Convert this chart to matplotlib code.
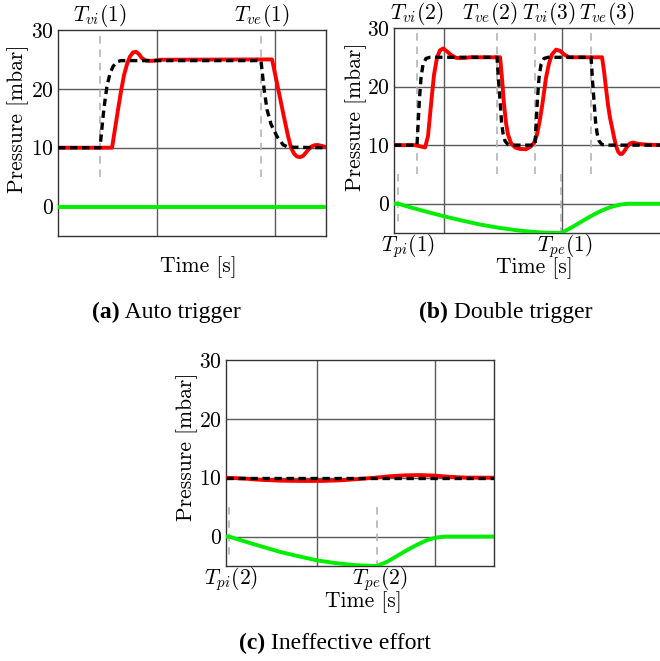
import matplotlib
matplotlib.use("Agg")
import matplotlib.pyplot as plt
from matplotlib.text import Annotation

plt.rcParams["font.family"] = "serif"
plt.rcParams["font.serif"] = ["cmr10", "DejaVu Serif"]
plt.rcParams["mathtext.fontset"] = "cm"
plt.rcParams["axes.unicode_minus"] = False
plt.rcParams["axes.formatter.use_mathtext"] = True

# ---------------- (a) Auto trigger ----------------
a_xlim = (0.161, 2.432)
a_set_t = [0.161, 0.517, 0.534, 0.551, 0.576, 0.602, 0.627, 0.661, 0.695,
           1.881, 1.907, 1.932, 1.966, 2.017, 2.068, 2.110, 2.432]
a_set_p = [10, 10, 13.5, 16.8, 20.5, 22.6, 23.8, 24.6, 24.8,
           24.8, 20.0, 16.5, 14.0, 11.9, 10.5, 10.1, 10]
a_meas_t = [0.161, 0.619, 0.644, 0.669, 0.695, 0.720, 0.746, 0.771, 0.797,
            0.822, 0.847, 0.873, 0.907, 0.958, 1.025, 1.975, 2.008, 2.042,
            2.076, 2.110, 2.136, 2.161, 2.186, 2.212, 2.237, 2.263, 2.288,
            2.314, 2.339, 2.364, 2.398, 2.432]
a_meas_p = [10, 10, 13.2, 16.4, 19.6, 22.3, 24.2, 25.5, 26.2,
            26.3, 25.9, 25.2, 24.8, 24.75, 24.95, 25, 21.8, 18.5,
            15.2, 12.0, 10.0, 9.0, 8.5, 8.4, 8.6, 9.2, 9.8,
            10.25, 10.45, 10.45, 10.3, 10.1]
a_mus_t = [0.161, 2.432]
a_mus_p = [0, 0]
a_marks_top = [(0.517, r"$T_{vi}(1)$", 0.517), (1.881, r"$T_{ve}(1)$", 1.89)]
a_marks_bot = []

# ---------------- (b) Double trigger ----------------
b_xlim = (0.576, 2.847)
b_set_t = [0.576, 0.771, 0.780, 0.792, 0.805, 0.822, 0.847, 0.881,
           1.449, 1.462, 1.475, 1.487, 1.500, 1.517, 1.542, 1.576,
           1.771, 1.780, 1.792, 1.805, 1.822, 1.847, 1.881,
           2.246, 2.258, 2.271, 2.284, 2.297, 2.314, 2.339, 2.373, 2.847]
b_set_p = [10, 10, 13.5, 18, 21.5, 23.8, 24.8, 25,
           25, 21, 17.5, 14, 12, 10.7, 10.1, 10,
           10, 13.5, 18, 21.5, 23.8, 24.8, 25,
           25, 21, 17.5, 14, 12, 10.7, 10.1, 10, 10]
b_meas_t = [0.576, 0.754, 0.797, 0.839, 0.864, 0.890, 0.915, 0.941, 0.966,
            0.992, 1.025, 1.059, 1.102, 1.153, 1.220, 1.475, 1.492, 1.508,
            1.525, 1.542, 1.568, 1.602, 1.644, 1.695, 1.737, 1.763, 1.788,
            1.814, 1.839, 1.864, 1.890, 1.915, 1.949, 1.983, 2.017, 2.059,
            2.110, 2.339, 2.356, 2.373, 2.390, 2.407, 2.424, 2.441, 2.458,
            2.475, 2.492, 2.508, 2.525, 2.551, 2.576, 2.602, 2.636, 2.703, 2.847]
b_meas_p = [10, 10, 9.8, 9.6, 11.5, 17.0, 22.0, 25.0, 26.2,
            26.5, 26.0, 25.4, 24.9, 24.85, 25, 25, 21.2, 17.0,
            13.8, 11.8, 10.3, 9.6, 9.35, 9.3, 9.8, 10.4, 11.8,
            14.5, 17.8, 21.5, 24.0, 25.5, 26.3, 26.1, 25.5, 25.0,
            25, 25, 22.6, 19.6, 16.8, 14.6, 13.0, 11.3, 9.8,
            8.9, 8.5, 8.5, 8.9, 9.7, 10.3, 10.45, 10.25, 10.1, 10]
b_mus_t = [0.576, 0.610, 0.712, 0.839, 1.0, 1.136, 1.305, 1.475, 1.644, 1.814,
           1.992, 2.068, 2.153, 2.237, 2.322, 2.407, 2.492, 2.559, 2.847]
b_mus_p = [0, 0, -0.6, -1.3, -2.15, -2.8, -3.55, -4.15, -4.6, -4.9,
           -5, -4.2, -3.2, -2.2, -1.3, -0.6, -0.15, 0, 0]
b_marks_top = [(0.771, r"$T_{vi}(2)$", 0.767), (1.449, r"$T_{ve}(2)$", 1.386),
               (1.771, r"$T_{vi}(3)$", 1.890), (2.246, r"$T_{ve}(3)$", 2.377)]
b_marks_bot = [(0.610, r"$T_{pi}(1)$", 0.699, -4.0), (1.992, r"$T_{pe}(1)$", 2.021, -5.0)]

# ---------------- (c) Ineffective effort ----------------
c_xlim = (0.229, 2.5)
c_set_t = [0.229, 2.5]
c_set_p = [10, 10]
c_meas_t = [0.229, 0.390, 0.517, 0.686, 0.856, 1.025, 1.195, 1.364, 1.492,
            1.619, 1.746, 1.873, 2.0, 2.127, 2.254, 2.5]
c_meas_p = [10, 9.85, 9.65, 9.5, 9.45, 9.45, 9.55, 9.8, 10,
            10.25, 10.4, 10.45, 10.35, 10.15, 10.02, 10]
c_mus_t = [0.229, 0.254, 0.390, 0.517, 0.686, 0.856, 1.0, 1.153, 1.322, 1.508,
           1.593, 1.678, 1.763, 1.847, 1.932, 2.017, 2.085, 2.5]
c_mus_p = [0, 0, -0.84, -1.6, -2.6, -3.4, -4.04, -4.5, -4.86, -5,
           -4.3, -3.3, -2.3, -1.4, -0.6, -0.15, 0, 0]
c_marks_top = []
c_marks_bot = [(0.254, r"$T_{pi}(2)$", 0.271, -4.0), (1.508, r"$T_{pe}(2)$", 1.534, -5.0)]

y_ticks = [0, 10, 20, 30]
x_grid = [1, 2]

FS = 15.5
fig = plt.figure(figsize=(6.6, 6.61), dpi=100)

W, H = 660.0, 661.0


def make_axes(left, top, bottom, width=268):
    return fig.add_axes([left / W, 1 - bottom / H, width / W, (bottom - top) / H])


def draw_panel(ax, xlim, set_t, set_p, meas_t, meas_p, mus_t, mus_p,
               marks_top, marks_bot, ylab_xy, xlab_xy):
    ax.set_xlim(*xlim)
    ax.set_ylim(-5, 30)
    ax.set_yticks(y_ticks)
    ax.set_xticks(x_grid)
    ax.set_xticklabels([])
    ax.tick_params(length=0, labelsize=FS, pad=3)
    for v in x_grid:
        ax.axvline(v, color="#5a5a5a", lw=1.0, zorder=1)
    for v in [0, 10, 20]:
        ax.axhline(v, color="#5a5a5a", lw=1.0, zorder=1)
    for s in ax.spines.values():
        s.set_color("#333333")
        s.set_linewidth(1.0)

    dash_gray = dict(color="#b4b4b4", lw=1.2, ls=(0, (4.5, 3.5)), zorder=2)
    for xv, lab, lx in marks_top:
        ax.plot([xv, xv], [5, 30], **dash_gray)
        ax.text(lx, 32.5, lab, ha="center", va="center", fontsize=FS, clip_on=False)
    for xv, lab, lx, ylo in marks_bot:
        ax.plot([xv, xv], [5, ylo], **dash_gray)
        ax.text(lx, -7.3, lab, ha="center", va="center", fontsize=FS, clip_on=False)

    ax.plot(mus_t, mus_p, color="#00ee00", lw=2.8, zorder=3, solid_capstyle="butt")
    ax.plot(meas_t, meas_p, color="#ff0000", lw=2.8, zorder=4, solid_joinstyle="round")
    ax.plot(set_t, set_p, color="black", lw=2.4, ls=(0, (2.2, 1.4)), zorder=5)

    ax.set_ylabel("Pressure [mbar]", fontsize=FS, va="center")
    ax.yaxis.set_label_coords(*ylab_xy)
    ax.set_xlabel("Time [s]", fontsize=FS, va="center")
    ax.xaxis.set_label_coords(*xlab_xy)


ax_a = make_axes(58, 30, 236)
draw_panel(ax_a, a_xlim, a_set_t, a_set_p, a_meas_t, a_meas_p, a_mus_t, a_mus_p,
           a_marks_top, a_marks_bot, (-0.149, 0.568), (0.522, -0.150))

ax_b = make_axes(394, 28, 233)
draw_panel(ax_b, b_xlim, b_set_t, b_set_p, b_meas_t, b_meas_p, b_mus_t, b_mus_p,
           b_marks_top, b_marks_bot, (-0.142, 0.566), (0.522, -0.171))

ax_c = make_axes(226, 360, 566)
draw_panel(ax_c, c_xlim, c_set_t, c_set_p, c_meas_t, c_meas_p, c_mus_t, c_mus_p,
           c_marks_top, c_marks_bot, (-0.146, 0.578), (0.511, -0.175))

# sub-figure captions: bold tag followed by regular text, sharing one baseline
CAP_FS = 17
CAP_FAMILY = ["Liberation Serif", "DejaVu Serif"]
captions = [("(a)", " Auto trigger", 92, 318),
            ("(b)", " Double trigger", 419, 318),
            ("(c)", " Ineffective effort", 239, 649)]
for tag, body, x0, y_base in captions:
    t1 = fig.text(x0 / W, 1 - y_base / H, tag, fontsize=CAP_FS, fontweight="bold",
                  family=CAP_FAMILY, ha="left", va="baseline")
    fig.add_artist(Annotation(body, xy=(1, 0), xycoords=t1,
                              xytext=(0, 0), textcoords="offset points",
                              va="bottom", ha="left",
                              fontsize=CAP_FS, family=CAP_FAMILY))

fig.savefig("out.png", dpi=100)
